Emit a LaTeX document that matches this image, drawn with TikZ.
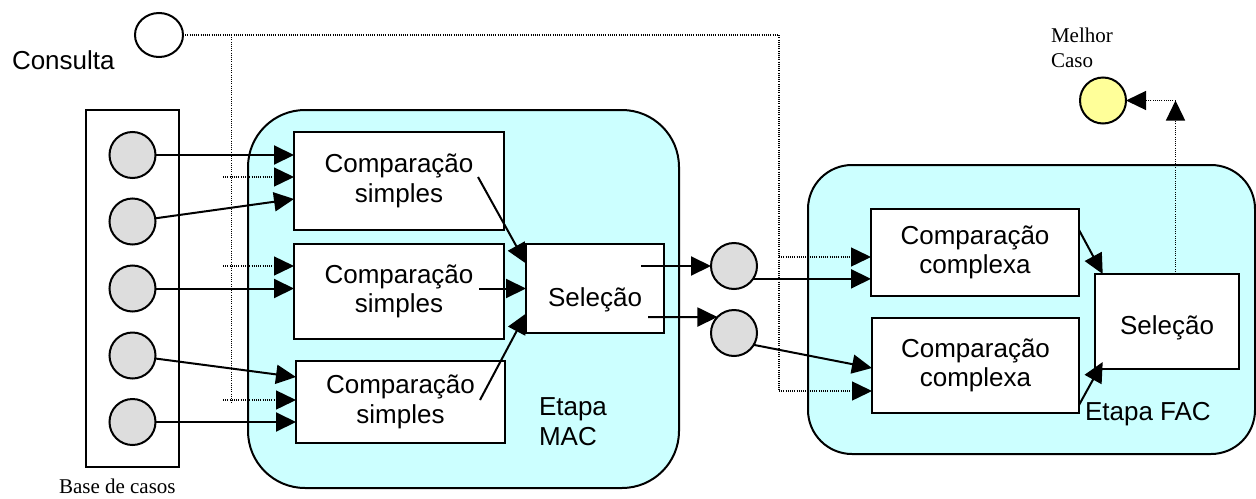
\documentclass[tikz,border=0pt]{standalone}
\usepackage{fontspec}
\setmainfont{Liberation Serif}
\setsansfont{Liberation Sans}
\usetikzlibrary{arrows.meta,shapes.geometric,calc}
\definecolor{stagefill}{RGB}{204,255,255}
\definecolor{casefill}{RGB}{221,221,221}
\definecolor{bestfill}{RGB}{255,255,153}
\begin{document}
\begin{tikzpicture}[x=0.5pt,y=-0.5pt,
  every node/.style={inner sep=0pt, outer sep=0pt},
  stage/.style={draw, line width=1pt, fill=stagefill, rectangle},
  procbox/.style={draw, line width=1pt, fill=white, rectangle, align=center,
    font=\sffamily\fontsize{13}{14.8}\selectfont},
  selbox/.style={draw, line width=1pt, fill=white, rectangle,
    font=\sffamily\fontsize{13}{14.8}\selectfont},
  casecirc/.style={draw, line width=1pt, circle, fill=casefill, minimum size=23pt},
  lbl/.style={font=\sffamily\fontsize{13}{14.8}\selectfont},
  note/.style={font=\rmfamily\fontsize{10.5}{12.5}\selectfont},
  arr/.style={line width=1pt, -{Triangle[length=10pt,width=9.5pt]}},
  dotarr/.style={line width=0.7pt, dash pattern=on 0.5pt off 0.6pt,
    -{Triangle[length=10pt,width=9.5pt]}},
  dotline/.style={line width=0.7pt, dash pattern=on 0.5pt off 0.6pt}]

\useasboundingbox (0,0) rectangle (1256,498);

% stage backgrounds
\node[stage, minimum width=215.5pt, minimum height=189pt, rounded corners=28.5pt] (mac) at (463.5,299) {};
\node[stage, minimum width=223.5pt, minimum height=144.5pt, rounded corners=22pt] (fac) at (1031.5,309.5) {};

% case base
\node[draw, line width=1pt, minimum width=46.5pt, minimum height=178.5pt] (base) at (132.5,288.5) {};
\node[casecirc] (c1) at (132.5,155) {};
\node[casecirc] (c2) at (132.5,221.5) {};
\node[casecirc] (c3) at (132.5,288.5) {};
\node[casecirc] (c4) at (132.5,355.5) {};
\node[casecirc] (c5) at (132.5,422) {};

% query, intermediate and best cases
\node[draw, line width=1pt, ellipse, fill=white, minimum width=24pt, minimum height=22pt] (q) at (159,35) {};
\node[casecirc] (m1) at (734,266) {};
\node[casecirc] (m2) at (734,333) {};
\node[casecirc, fill=bestfill] (best) at (1103,100.5) {};

% MAC stage
\node[procbox, minimum width=105pt, minimum height=49pt] (cs1) at (399,181) {Comparação\\simples};
\node[procbox, minimum width=105pt, minimum height=47.5pt] (cs2) at (399,291.5) {Comparação\\simples};
\node[procbox, minimum width=104.5pt, minimum height=41pt] (cs3) at (400.5,402) {Comparação\\simples};
\node[selbox, minimum width=69pt, minimum height=44.5pt, text height=18pt, text depth=0pt] (sel1) at (595,288.5) {Seleção};

% FAC stage
\node[procbox, minimum width=104pt, minimum height=43.5pt] (cc1) at (975,252.5) {Comparação\\complexa};
\node[procbox, minimum width=103.5pt, minimum height=47.5pt] (cc2) at (975.5,365.5) {Comparação\\complexa};
\node[selbox, minimum width=72pt, minimum height=47.5pt, text height=12.5pt, text depth=0pt] (sel2) at (1167,321.5) {Seleção};

% labels
\node[lbl, anchor=base west] (consulta) at (12,69) {Consulta};
\node[lbl, anchor=north west, align=left] (etmac) at (539,398) {Etapa\\MAC};
\node[lbl, anchor=base west] (etfac) at (1085,420.7) {Etapa FAC};
\node[note, anchor=north west, align=left] (bestlbl) at (1051,27.6) {Melhor\\Caso};
\node[note, anchor=base west] (baselbl) at (59,493) {Base de casos};

% query distribution lines
\coordinate (tl) at (231.5,35);
\coordinate (bl) at (231.5,403);
\coordinate (tr) at (779,35);
\coordinate (s1) at (223,177);
\coordinate (s2) at (223,266);
\coordinate (s3) at (223,400);
\coordinate (r1) at (779,257);
\coordinate (r2) at (779,391);
\coordinate (turn) at (1175.5,100.5);

\draw[dotline] (q.east) -- (tr) -- (r2);
\draw[dotline] (tl) -- (bl);
\draw[dotarr] (s1) -- (cs1.west |- s1);
\draw[dotarr] (s2) -- (cs2.west |- s2);
\draw[dotarr] (s3) -- (cs3.west |- s3);
\draw[dotarr] (r1) -- (cc1.west |- r1);
\draw[dotarr] (r2) -- (cc2.west |- r2);

% cases into simple comparisons
\draw[arr] (c1.east) -- (cs1.west |- c1.east);
\draw[arr] (c2) -- ([shift={(0,18)}]cs1.west);
\draw[arr] (c3.east) -- (cs2.west |- c3.east);
\draw[arr] (c4) -- ([shift={(0,-25)}]cs3.west);
\draw[arr] (c5.east) -- (cs3.west |- c5.east);

% MAC selection
\draw[arr] ([shift={(-26,-4)}]cs1.east) -- ([shift={(0,-25)}]sel1.west);
\draw[arr] ([shift={(-25,-3)}]cs2.east) -- (sel1.west);
\draw[arr] ([shift={(-25,-2)}]cs3.east) -- ([shift={(0,25)}]sel1.west);
\draw[arr] ([shift={(-23,-22.5)}]sel1.east) -- (m1.west);
\draw[arr] ([shift={(-16,28.5)}]sel1.east) -- (m2.136);

% FAC inputs and selection
\draw[arr] (m1.-34) -- (cc1.west |- m1.-34);
\draw[arr] (m2.-31) -- ([shift={(0,2.5)}]cc2.west);
\draw[arr] ([shift={(0,-22.5)}]cc1.east) -- ([shift={(7.7,0)}]sel2.north west);
\draw[arr] ([shift={(0,39.5)}]cc2.east) -- ([shift={(7.7,-7)}]sel2.south west);
\draw[dotarr] ([shift={(8.5,0)}]sel2.north) -- (turn);
\draw[dotarr] (turn) -- (best.east);
\end{tikzpicture}
\end{document}
